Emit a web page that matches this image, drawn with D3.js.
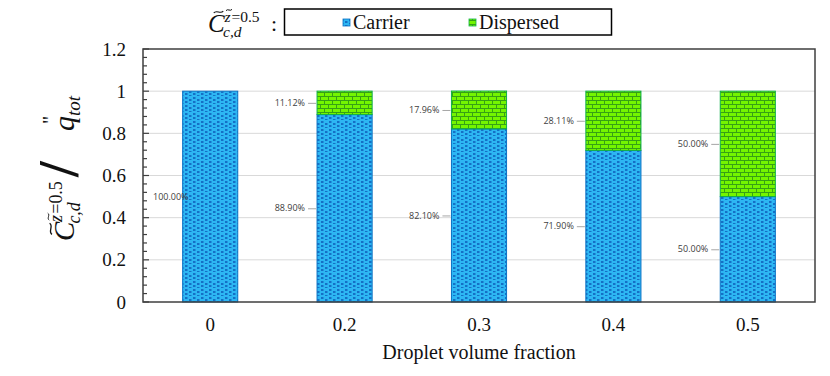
<!DOCTYPE html>
<html>
<head>
<meta charset="utf-8">
<script src="https://cdn.jsdelivr.net/npm/d3@7"></script>
<style>
  body { margin: 0; background: #fff; }
  svg { display: block; }
</style>
</head>
<body>
<div id="chart"></div>
<script>
// data
const fractions = ["0", "0.2", "0.3", "0.4", "0.5"];
const carrier = [1.0, 0.889, 0.821, 0.719, 0.50];
const dispersed = [0.0, 0.1112, 0.1796, 0.2811, 0.50];
const carrierLabels = ["100.00%", "88.90%", "82.10%", "71.90%", "50.00%"];
const dispersedLabels = ["", "11.12%", "17.96%", "28.11%", "50.00%"];
const yTicks = [0, 0.2, 0.4, 0.6, 0.8, 1, 1.2];
const seriesNames = ["Carrier", "Dispersed"];

const W = 830, H = 376;
const pLeft = 143, pRight = 815, pTop = 49, pBottom = 302;
const serif = "Liberation Serif, Tinos, Times New Roman, DejaVu Serif, serif";

const svg = d3.select("#chart").append("svg")
  .attr("width", W).attr("height", H);

// fill patterns
const defs = svg.append("defs");
const pc = defs.append("pattern").attr("id", "pCarrier")
  .attr("patternUnits", "userSpaceOnUse").attr("width", 8).attr("height", 8);
pc.append("rect").attr("width", 8).attr("height", 8).attr("fill", "#2db6f3");
[[1, 1], [5, 3], [1, 5], [5, 7]].forEach(p => {
  pc.append("rect").attr("x", p[0]).attr("y", p[1]).attr("width", 2.5).attr("height", 2)
    .attr("fill", "#1470c6");
});
const pd = defs.append("pattern").attr("id", "pDispersed")
  .attr("patternUnits", "userSpaceOnUse").attr("width", 8).attr("height", 8);
pd.append("rect").attr("width", 8).attr("height", 8).attr("fill", "#74f500");
pd.append("path")
  .attr("d", "M0,0.5H8M0,4.5H8M0.5,0V4.5M4.5,4.5V8")
  .attr("stroke", "#37a114").attr("stroke-width", 1).attr("fill", "none");

const fills = ["url(#pCarrier)", "url(#pDispersed)"];
const strokes = ["#0a72c4", "#10b04a"];

// scales
const x = d3.scaleBand().domain(fractions).range([pLeft, pRight])
  .paddingInner(0.59).paddingOuter(0.295);
const y = d3.scaleLinear().domain([0, 1.2]).range([pBottom, pTop]);

// gridlines
svg.append("g").selectAll("line")
  .data(yTicks.filter(t => t > 0 && t < 1.2))
  .join("line")
  .attr("x1", pLeft).attr("x2", pRight)
  .attr("y1", d => y(d)).attr("y2", d => y(d))
  .attr("stroke", "#d9d9d9").attr("stroke-width", 1);

// stacked bars
const stack = fractions.map((f, i) => ({ f, c: carrier[i], d: dispersed[i] }));
const bars = svg.append("g");
bars.selectAll("rect.carrier")
  .data(stack).join("rect").attr("class", "carrier")
  .attr("x", d => x(d.f)).attr("width", x.bandwidth())
  .attr("y", d => y(d.c)).attr("height", d => y(0) - y(d.c))
  .attr("fill", fills[0]).attr("stroke", strokes[0]).attr("stroke-width", 1);
bars.selectAll("rect.dispersed")
  .data(stack.filter(d => d.d > 0)).join("rect").attr("class", "dispersed")
  .attr("x", d => x(d.f)).attr("width", x.bandwidth())
  .attr("y", d => y(d.c + d.d)).attr("height", d => y(d.c) - y(d.c + d.d))
  .attr("fill", fills[1]).attr("stroke", strokes[1]).attr("stroke-width", 1);

// plot box
svg.append("rect")
  .attr("x", pLeft).attr("y", pTop)
  .attr("width", pRight - pLeft).attr("height", pBottom - pTop)
  .attr("fill", "none").attr("stroke", "#3f3f3f").attr("stroke-width", 1.5);

// y ticks (inside), minor every 0.04
const ticksG = svg.append("g");
d3.range(0, 31).forEach(k => {
  const v = k * 0.04;
  const major = k % 5 === 0;
  ticksG.append("line")
    .attr("x1", pLeft).attr("x2", pLeft + (major ? 6 : 4))
    .attr("y1", y(v)).attr("y2", y(v))
    .attr("stroke", "#3f3f3f").attr("stroke-width", 1.2);
});
svg.append("g").selectAll("text")
  .data(yTicks).join("text")
  .attr("x", 126).attr("y", d => y(d)).attr("dy", "0.35em")
  .attr("text-anchor", "end")
  .attr("font-family", serif).attr("font-size", 19).attr("fill", "#111")
  .text(d => d3.format("")(d));

// x tick labels
svg.append("g").selectAll("text")
  .data(fractions).join("text")
  .attr("x", d => x(d) + x.bandwidth() / 2).attr("y", 331)
  .attr("text-anchor", "middle")
  .attr("font-family", serif).attr("font-size", 19).attr("fill", "#111")
  .text(d => d);

svg.append("text")
  .attr("x", (pLeft + pRight) / 2).attr("y", 359)
  .attr("text-anchor", "middle")
  .attr("font-family", serif).attr("font-size", 20).attr("fill", "#111")
  .text("Droplet volume fraction");

// data labels with leader lines
const lab = svg.append("g");
function dataLabel(txt, barX, yMid) {
  const t = lab.append("text")
    .attr("y", yMid).attr("dy", "0.35em")
    .attr("font-family", "Open Sans, sans-serif").attr("font-size", 9)
    .attr("fill", "#404040").text(txt);
  const w = t.node().getComputedTextLength();
  let start = barX - 12 - w;
  if (start < pLeft + 10) start = pLeft + 10;
  t.attr("x", start);
  const end = start + w;
  if (barX - 1 - (end + 3) > 1) {
    lab.append("line")
      .attr("x1", end + 3).attr("x2", barX - 1)
      .attr("y1", yMid + 0.5).attr("y2", yMid + 0.5)
      .attr("stroke", "#a6a6a6").attr("stroke-width", 1);
  }
}
stack.forEach((d, i) => {
  const bx = x(d.f);
  dataLabel(carrierLabels[i], bx, (y(0) + y(d.c)) / 2);
  if (d.d > 0) dataLabel(dispersedLabels[i], bx, (y(d.c) + y(d.c + d.d)) / 2);
});

// small tilde accent drawn as a path, centred at (cx, cy), width w
function tilde(g, cx, cy, w) {
  const h = w * 0.18;
  g.append("path")
    .attr("d", `M${cx - w / 2},${cy + h * 0.6} C${cx - w / 4},${cy - h * 1.6} ${cx + w / 4},${cy + h * 1.6} ${cx + w / 2},${cy - h * 0.6}`)
    .attr("fill", "none").attr("stroke", "#111").attr("stroke-width", Math.max(1, w * 0.12));
}

// C~ with sub c,d and sup z~=0.5
function symbolC(g, x0, y0, s) {
  const it = (txt, xx, yy, size, italic) => g.append("text")
    .attr("x", xx).attr("y", yy)
    .attr("font-family", serif).attr("font-size", size)
    .attr("font-style", italic ? "italic" : "normal")
    .attr("fill", "#111").text(txt);
  it("C", x0, y0, s, true);
  tilde(g, x0 + 0.42 * s, y0 - 0.8 * s, 0.38 * s);
  it("c,d", x0 + 0.6 * s, y0 + 0.2 * s, 0.62 * s, true);
  it("z", x0 + 0.66 * s, y0 - 0.42 * s, 0.62 * s, true);
  tilde(g, x0 + 0.84 * s, y0 - 0.88 * s, 0.24 * s);
  it("=0.5", x0 + 0.94 * s, y0 - 0.42 * s, 0.62 * s, false);
}

// legend
const leg = svg.append("g");
symbolC(leg, 208, 32, 25);
leg.append("text").attr("x", 271).attr("y", 31)
  .attr("font-family", serif).attr("font-size", 22).attr("fill", "#111").text(":");
leg.append("rect").attr("x", 284.5).attr("y", 9).attr("width", 327).attr("height", 26)
  .attr("fill", "#fff").attr("stroke", "#000").attr("stroke-width", 1.5);
const legX = [343, 469];
seriesNames.forEach((n, i) => {
  leg.append("rect").attr("x", legX[i]).attr("y", 19).attr("width", 7).attr("height", 7)
    .attr("fill", fills[i]).attr("stroke", strokes[i]).attr("stroke-width", 0.8);
  leg.append("text").attr("x", legX[i] + 10).attr("y", 29)
    .attr("font-family", serif).attr("font-size", 20).attr("fill", "#111").text(n);
});

// y axis title, rotated
const yt = svg.append("g").attr("transform", "translate(74,241) rotate(-90)");
symbolC(yt, 0, 0, 29);
yt.append("text").attr("x", 64).attr("y", 4)
  .attr("font-family", serif).attr("font-size", 56).attr("font-weight", "bold")
  .attr("fill", "#111").text("/");
yt.append("text").attr("x", 110).attr("y", 0)
  .attr("font-family", serif).attr("font-size", 30).attr("font-style", "italic")
  .attr("fill", "#111").text("q");
yt.append("text").attr("x", 117).attr("y", -17)
  .attr("font-family", serif).attr("font-size", 20)
  .attr("fill", "#111").text("\"");
yt.append("text").attr("x", 125).attr("y", 6)
  .attr("font-family", serif).attr("font-size", 19).attr("font-style", "italic")
  .attr("fill", "#111").text("tot");
</script>
</body>
</html>
